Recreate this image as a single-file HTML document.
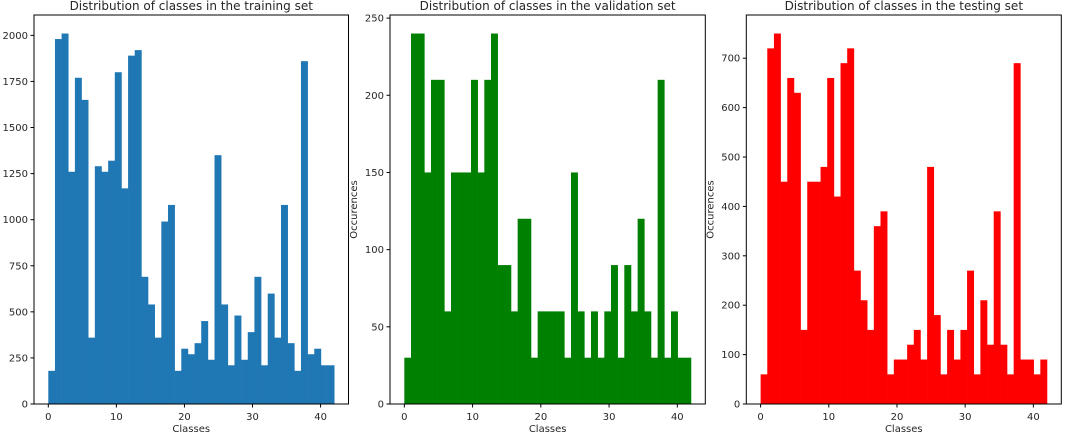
<!DOCTYPE html>
<html><head><meta charset="utf-8"><style>
body{margin:0;background:#fff;}
svg text{font-family:"DejaVu Sans","Liberation Sans",sans-serif;fill:#262626;}
</style></head><body>
<svg id="c" width="1080" height="432" xmlns="http://www.w3.org/2000/svg"></svg>
<script>
const trainCounts=[180,1980,2010,1260,1770,1650,360,1290,1260,1320,1800,1170,1890,1920,690,540,360,990,1080,180,300,270,330,450,240,1350,540,210,480,240,390,690,210,599,360,1080,330,180,1860,270,300,210,210];
const validCounts=[30,240,240,150,210,210,60,150,150,150,210,150,210,240,90,90,60,120,120,30,60,60,60,60,30,150,60,30,60,30,60,90,30,90,60,120,60,30,210,30,60,30,30];
const testCounts=[60,720,750,450,660,630,150,450,450,480,660,420,690,720,270,210,150,360,390,60,90,90,120,150,90,480,180,60,150,90,150,270,60,210,120,390,120,60,690,90,90,60,90];
const xTicks=[0,10,20,30,40];
const trainTicks=[0,250,500,750,1000,1250,1500,1750,2000];
const validTicks=[0,50,100,150,200,250];
const testTicks=[0,100,200,300,400,500,600,700];
const titles=["Distribution of classes in the training set","Distribution of classes in the validation set","Distribution of classes in the testing set"];

const svgEl=document.getElementById('c');
const NS="http://www.w3.org/2000/svg";
function mk(tag,attrs,parent){const e=document.createElementNS(NS,tag);for(const k in attrs)e.setAttribute(k,attrs[k]);(parent||svgEl).appendChild(e);return e;}

const panels=[
 {left:34,right:348.5,data:trainCounts,ticks:trainTicks,color:"#1f77b4",title:titles[0],ylabel:false,key:"training"},
 {left:390,right:705.3,data:validCounts,ticks:validTicks,color:"#008000",title:titles[1],ylabel:true,key:"validation"},
 {left:746.3,right:1061.3,data:testCounts,ticks:testTicks,color:"#ff0000",title:titles[2],ylabel:true,key:"testing"}
];
const plotTop=15,plotBottom=404;
panels.forEach(p=>{
  const g=mk('g',{});
  
  
  const n=p.data.length, binW=42/n;
  const xmin=-2.1,xmax=44.1;
  const ymax=Math.max(...p.data)*1.05;
  const xs=v=>p.left+(v-xmin)/(xmax-xmin)*(p.right-p.left);
  const ys=v=>plotBottom-v/ymax*(plotBottom-plotTop);
  p.data.forEach((v,i)=>{
    const x0=xs(i*binW),x1=xs((i+1)*binW);
    const r=mk('rect',{x:x0,y:ys(v),width:x1-x0+0.3,height:plotBottom-ys(v),fill:p.color},g);
    
    
  });
  const frame=mk('rect',{x:p.left,y:plotTop,width:p.right-p.left,height:plotBottom-plotTop,fill:"none",stroke:"#000","stroke-width":1},g);
  
  
  xTicks.forEach(t=>{
    const x=xs(t);
    mk('line',{x1:x,x2:x,y1:plotBottom,y2:plotBottom+3.5,stroke:"#000"},g);
    const tx=mk('text',{x:x,y:plotBottom+16,'font-size':10,'text-anchor':'middle'},g);
    tx.textContent=t;
    
    
  });
  p.ticks.forEach(t=>{
    const y=ys(t);
    mk('line',{x1:p.left-3.5,x2:p.left,y1:y,y2:y,stroke:"#000"},g);
    const tx=mk('text',{x:p.left-6,y:y+3.5,'font-size':10,'text-anchor':'end'},g);
    tx.textContent=t;
    
    
  });
  const ti=mk('text',{x:(p.left+p.right)/2,y:10,'font-size':12,'text-anchor':'middle'},g);
  ti.textContent=p.title;
  
  
  const xl=mk('text',{x:(p.left+p.right)/2,y:432,'font-size':10,'text-anchor':'middle'},g);
  xl.textContent="Classes";
  
  
  if(p.ylabel){
    const cx=p.left-33,cy=(plotTop+plotBottom)/2;
    const yl=mk('text',{x:cx,y:cy,'font-size':10,'text-anchor':'middle',transform:`rotate(-90 ${cx} ${cy})`},g);
    yl.textContent="Occurences";
    
    
  }
});
</script>
</body></html>
